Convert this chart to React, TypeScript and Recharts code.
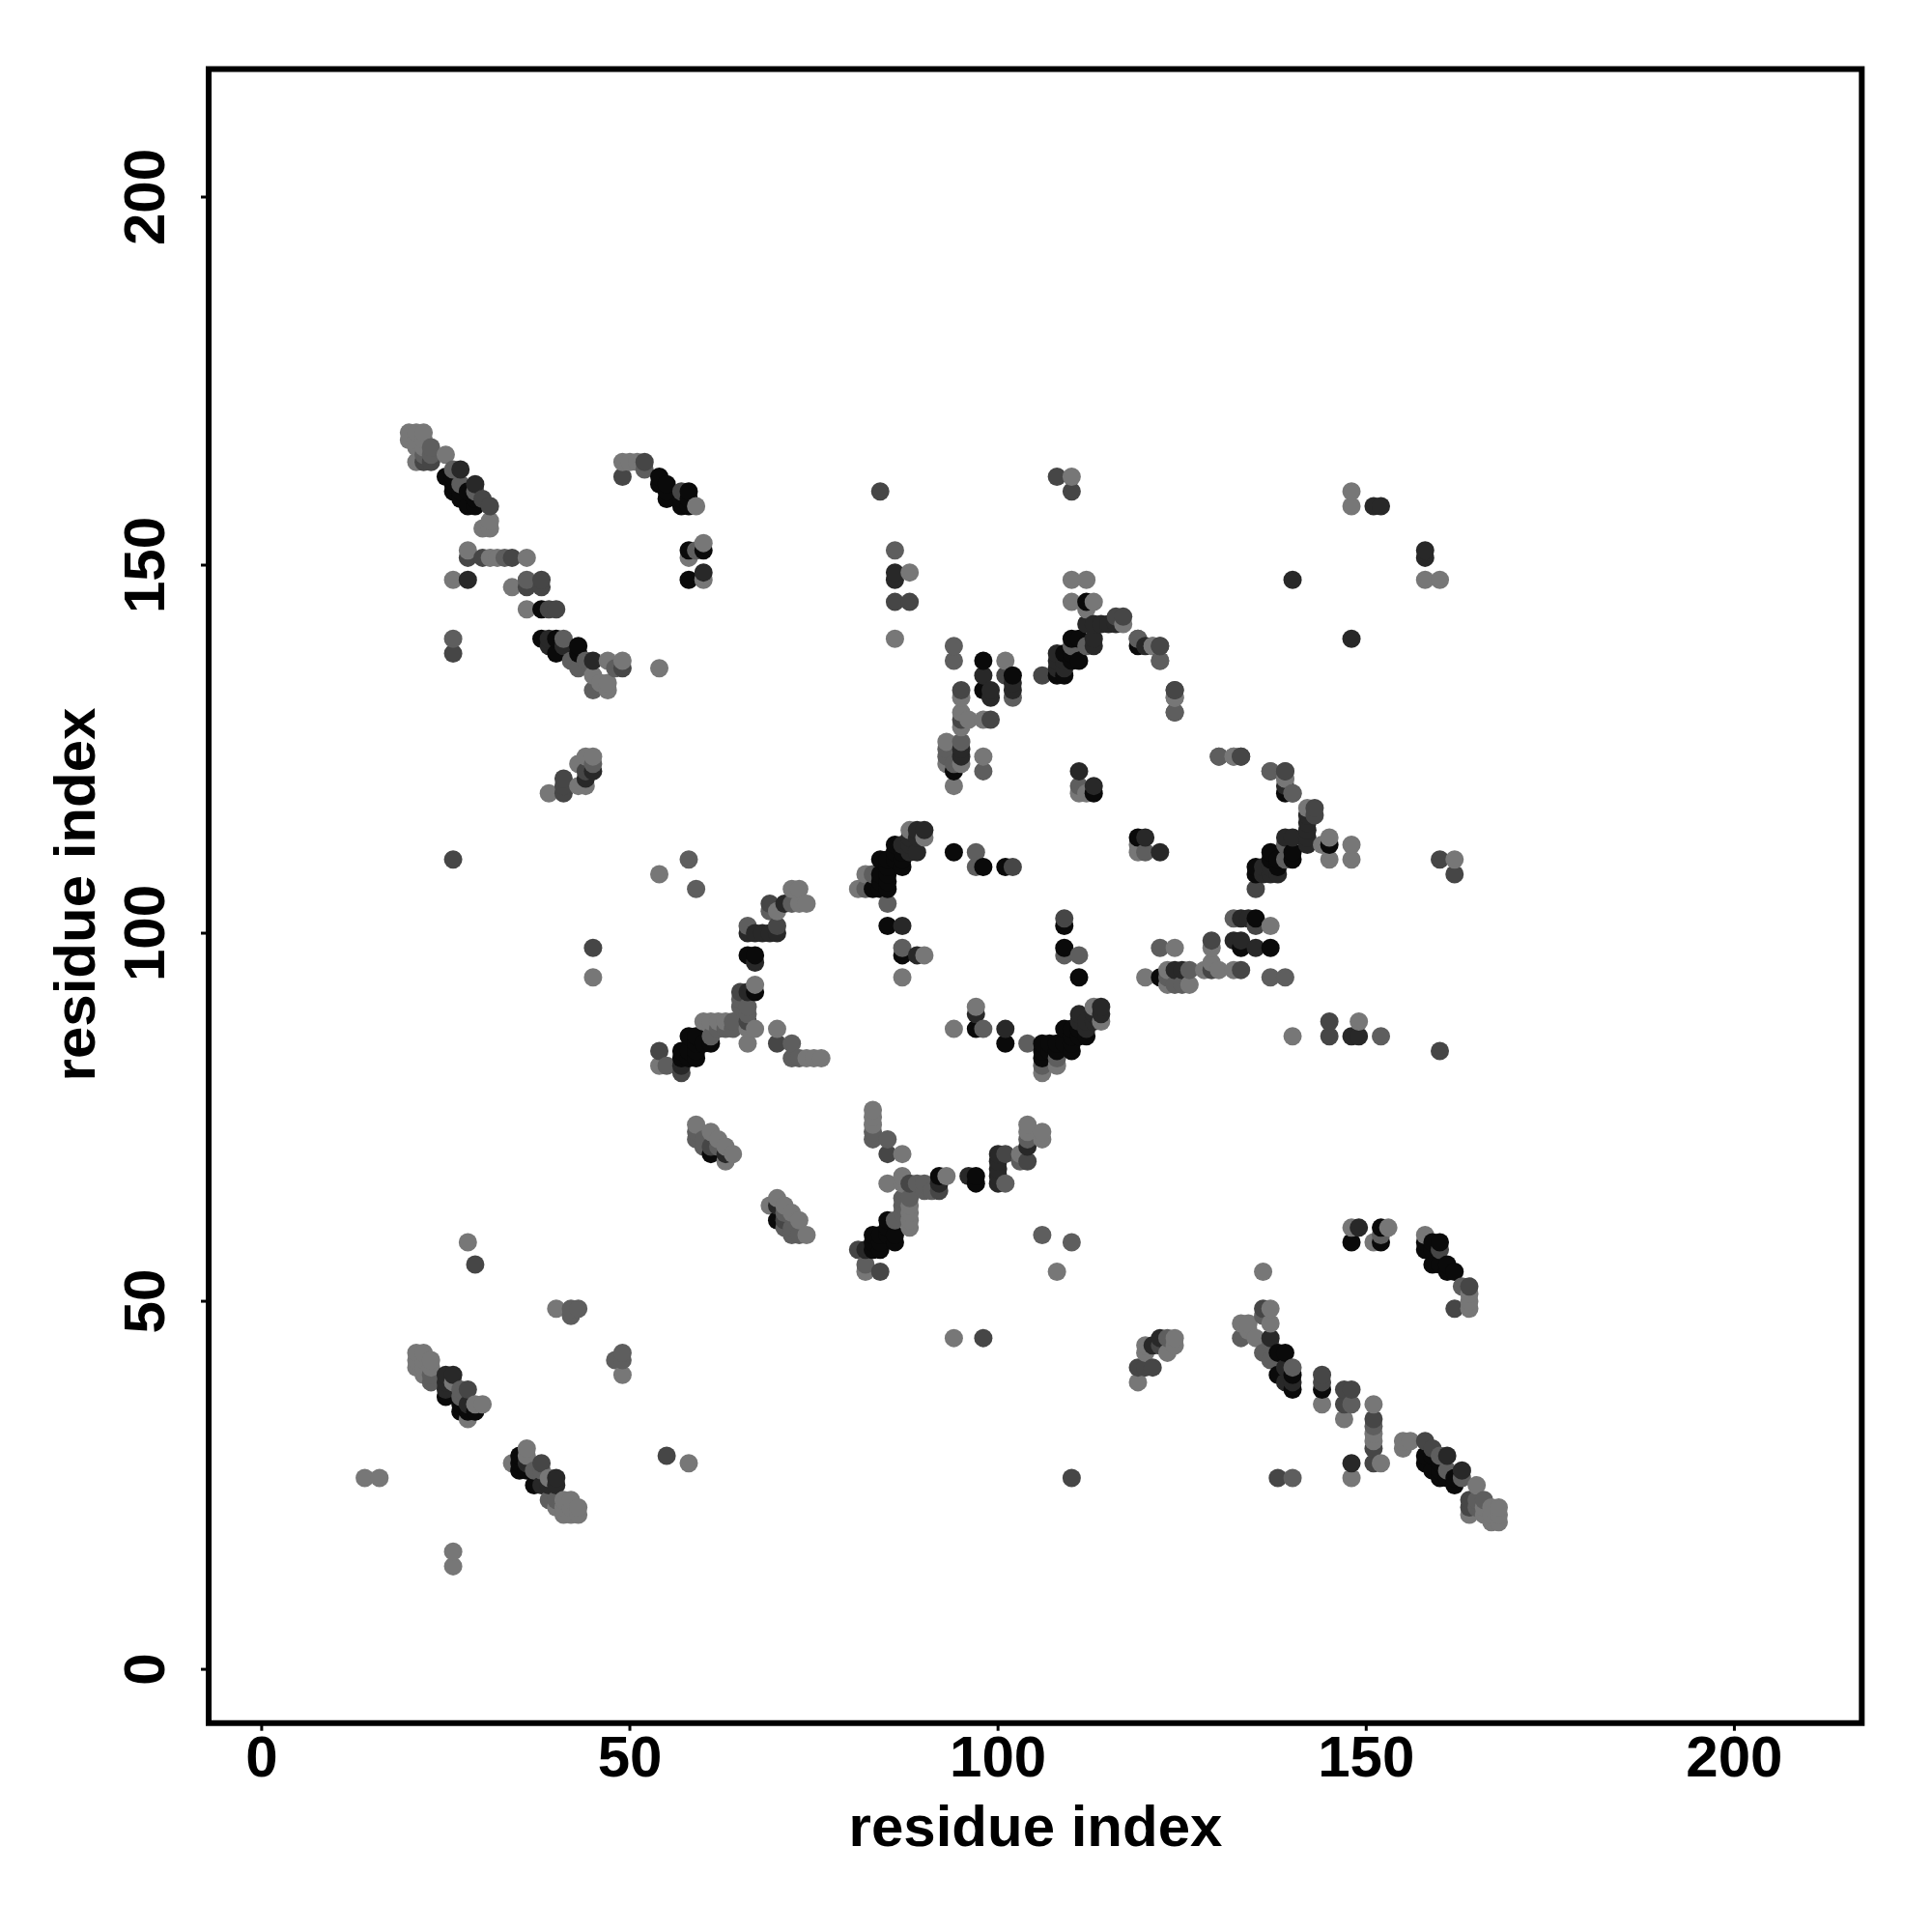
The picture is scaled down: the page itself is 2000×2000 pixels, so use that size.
import React from "react";
import {
  ScatterChart,
  Scatter,
  XAxis,
  YAxis,
  Label,
  ReferenceArea,
} from "recharts";

// contact pairs [i, j] with i < j, grouped by shade. The map is symmetric so
// each pair is also drawn as [j, i].
const blackPairs = [
  [25,162],[26,162],[26,161],[26,160],[27,160],[27,159],[28,160],[28,158],[29,159],[29,158],
  [54,162],[54,161],[55,161],[55,160],[55,159],[57,159],[57,158],[58,160],[58,159],[58,158],
  [58,152],[60,152],[58,148],[38,144],[38,140],[40,140],[40,138],[43,139],[43,138],
  [98,137],[98,133],[102,135],[94,122],[112,145],[110,140],[111,140],[109,138],[110,138],
  [111,137],[110,137],[109,135],[108,135],[113,119],[119,139],
  [84,106],[85,106],[83,106],[84,108],[84,107],[85,107],[85,108],[84,110],[85,110],[85,109],
  [86,110],[86,111],[86,112],[87,109],[87,110],[87,111],[85,101],[87,97],[66,97],[67,97],[67,92],
  [58,86],[59,86],[59,85],[60,85],[61,85],[57,84],[58,84],[57,83],[58,83],[59,83],[59,84],
  [61,70],[94,111],[98,109],[101,109],[27,36],[27,35],[25,37],[29,35],[28,35],
];
const darkPairs = [
  [27,163],[29,161],[28,148],[41,139],[39,139],[39,140],[45,137],[60,149],
  [86,149],[86,148],[98,135],[102,134],[102,133],[99,133],[99,132],[111,122],[113,120],
  [108,138],[108,137],[108,136],[109,136],[109,137],[112,142],[113,142],[114,142],[115,142],
  [116,142],[113,140],[113,139],[120,139],[140,148],[151,158],[152,158],
  [66,100],[67,100],[68,100],[69,100],[70,100],[71,104],[67,96],[66,92],[87,112],[87,101],
  [88,111],[88,112],[89,111],[89,97],[88,113],[89,113],[89,114],[90,114],[95,125],[95,124],
  [45,122],[44,121],[25,40],[26,40],[25,39],[25,38],[28,36],[63,70],[57,82],
];
const darkMidPairs = [
  [22,164],[23,164],[30,159],[31,158],[52,164],[49,162],[57,160],[28,151],[30,151],[34,151],
  [36,147],[38,148],[38,147],[39,144],[40,144],[26,138],[26,110],[49,136],[44,122],[41,121],
  [41,120],[41,119],[84,160],[108,162],[110,160],[86,145],[88,145],[95,133],[101,135],[99,129],
  [106,135],[116,143],[117,143],[122,139],[133,124],[139,122],[124,133],[45,98],[29,55],[28,38],
  [54,84],[57,81],[65,92],[69,104],[70,101],[70,85],[66,88],[95,129],[102,109],[61,71],
];
const midPairs = [
  [23,166],[22,165],[23,165],[26,163],[27,161],[36,148],[33,151],[52,163],[59,152],[41,140],
  [42,137],[43,136],[44,137],[48,136],[45,123],[45,133],[86,152],[95,126],[93,125],[93,124],
  [98,122],[94,139],[94,137],[102,132],[119,140],[122,137],[124,130],[130,124],[137,122],[140,119],
  [26,140],[58,110],[59,106],[65,91],[65,90],[66,89],[66,90],[64,88],[64,87],[63,87],[62,87],
  [61,86],[66,101],[69,103],[72,104],[72,83],[72,85],[73,83],[55,82],[59,73],[59,72],[60,72],
  [62,71],[60,71],[85,104],[83,108],[82,106],[97,111],[97,109],[111,120],[87,98],[110,139],[112,139],
  [42,49],[43,49],[42,48],[27,38],[27,37],[23,39],[23,40],[94,123],[29,160],
];
const lightPairs = [
  [20,168],[21,168],[22,168],[20,167],[21,167],[22,167],[21,166],[22,166],[25,165],[21,164],
  [31,156],[30,155],[31,155],[28,152],[31,151],[32,151],[36,151],[26,148],[34,147],[36,144],
  [47,137],[49,137],[45,135],[47,134],[47,133],[46,134],[54,136],[49,164],[50,164],[51,164],
  [59,158],[60,153],[58,151],[60,148],[39,119],[43,123],[44,124],[45,124],[44,120],[43,120],
  [86,140],[88,149],[110,162],[110,148],[112,148],[110,145],[113,145],[112,144],[101,137],[95,132],
  [95,130],[96,129],[98,129],[95,128],[93,126],[93,123],[95,123],[94,120],[98,124],[111,119],
  [112,119],[117,142],[121,139],[124,132],[132,124],[139,121],[148,160],[148,158],[45,94],[54,108],
  [72,106],[73,106],[74,104],[73,104],[67,93],[70,87],[67,87],[66,87],[66,85],[54,82],[60,88],
  [61,88],[62,88],[63,88],[70,103],[74,83],[75,83],[76,83],[59,74],[61,73],[62,72],[63,71],[64,70],
  [63,69],[87,94],[90,97],[88,114],[90,113],[81,106],[82,108],[28,58],[14,26],[16,26],[21,43],
  [22,43],[21,42],[22,42],[21,41],[22,41],[22,40],[23,42],[23,41],[28,34],[30,36],[29,36],[40,49],[26,39],
];

const shades: [number[][], string][] = [
  [blackPairs, "#0a0a0a"],
  [darkPairs, "#282828"],
  [darkMidPairs, "#464646"],
  [midPairs, "#5e5e5e"],
  [lightPairs, "#777777"],
];

const axisTicks = [0, 50, 100, 150, 200];
const axisTitle = "residue index";
const xDomain = [-7.2, 217.3];
const yDomain = [-7.3, 217.4];

const FONT = '"Liberation Sans", Arial, sans-serif';

// R draws in x then y order, so lighter points sit over dark ones in places
const points = shades
  .flatMap(([pairs, fill]) =>
    pairs.flatMap(([i, j]) => [
      { x: i, y: j, fill },
      { x: j, y: i, fill },
    ])
  )
  .sort((a, b) => a.x - b.x || a.y - b.y);

const textStyle = { fontFamily: FONT, fontWeight: 700, fontSize: 60, fill: "#000" };

const XTick = ({ x, y, payload }: any) => (
  <text x={x} y={y + 47} textAnchor="middle" {...textStyle}>
    {payload.value}
  </text>
);

const YTick = ({ x, y, payload }: any) => (
  <text
    x={x - 38}
    y={y}
    textAnchor="middle"
    transform={`rotate(-90, ${x - 38}, ${y})`}
    {...textStyle}
  >
    {payload.value}
  </text>
);

const Dot = ({ cx, cy, payload }: any) => (
  <circle cx={cx} cy={cy} r={9.5} fill={payload.fill} />
);

export default function App() {
  return (
    <div style={{ position: "absolute", left: 0, top: 0, width: 2000, height: 2000, background: "#fff" }}>
      <ScatterChart
        width={2000}
        height={2000}
        margin={{ top: 71.4, right: 72.7, left: 0, bottom: 0 }}
      >
        <XAxis
          type="number"
          dataKey="x"
          domain={xDomain}
          ticks={axisTicks}
          interval={0}
          height={216.3}
          axisLine={false}
          tickLine={{ stroke: "#000", strokeWidth: 3 }}
          tickSize={8}
          tickMargin={0}
          tick={<XTick />}
          allowDataOverflow
        >
          <Label
            content={() => (
              <text x={1072} y={1911} textAnchor="middle" {...textStyle}>
                {axisTitle}
              </text>
            )}
          />
        </XAxis>
        <YAxis
          type="number"
          dataKey="y"
          domain={yDomain}
          ticks={axisTicks}
          interval={0}
          width={216}
          axisLine={false}
          tickLine={{ stroke: "#000", strokeWidth: 3 }}
          tickSize={8}
          tickMargin={0}
          tick={<YTick />}
          allowDataOverflow
        >
          <Label
            content={() => (
              <text
                x={98}
                y={926}
                textAnchor="middle"
                transform="rotate(-90, 98, 926)"
                {...textStyle}
              >
                {axisTitle}
              </text>
            )}
          />
        </YAxis>
        <Scatter data={points} shape={<Dot />} isAnimationActive={false} />
        <ReferenceArea
          x1={xDomain[0]}
          x2={xDomain[1]}
          y1={yDomain[0]}
          y2={yDomain[1]}
          fill="none"
          stroke="#000"
          strokeWidth={6}
          ifOverflow="visible"
        />
      </ScatterChart>
    </div>
  );
}
